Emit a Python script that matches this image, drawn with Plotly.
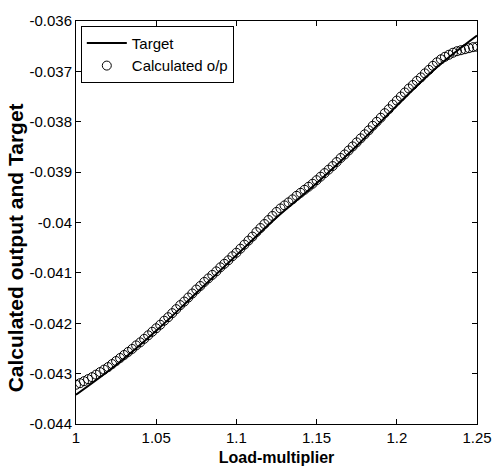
import plotly.graph_objects as go

# Load-multiplier sample points (x)
load_multiplier = [
    1.0000, 1.0025, 1.0050, 1.0075, 1.0100, 1.0125, 1.0150, 1.0175, 1.0200, 1.0225,
    1.0250, 1.0275, 1.0300, 1.0325, 1.0350, 1.0375, 1.0400, 1.0425, 1.0450, 1.0475,
    1.0500, 1.0525, 1.0550, 1.0575, 1.0600, 1.0625, 1.0650, 1.0675, 1.0700, 1.0725,
    1.0750, 1.0775, 1.0800, 1.0825, 1.0850, 1.0875, 1.0900, 1.0925, 1.0950, 1.0975,
    1.1000, 1.1025, 1.1050, 1.1075, 1.1100, 1.1125, 1.1150, 1.1175, 1.1200, 1.1225,
    1.1250, 1.1275, 1.1300, 1.1325, 1.1350, 1.1375, 1.1400, 1.1425, 1.1450, 1.1475,
    1.1500, 1.1525, 1.1550, 1.1575, 1.1600, 1.1625, 1.1650, 1.1675, 1.1700, 1.1725,
    1.1750, 1.1775, 1.1800, 1.1825, 1.1850, 1.1875, 1.1900, 1.1925, 1.1950, 1.1975,
    1.2000, 1.2025, 1.2050, 1.2075, 1.2100, 1.2125, 1.2150, 1.2175, 1.2200, 1.2225,
    1.2250, 1.2275, 1.2300, 1.2325, 1.2350, 1.2375, 1.2400, 1.2425, 1.2450, 1.2475,
    1.2500,
]

# Calculated output (circles)
calculated_op = [
    -0.04322, -0.04319, -0.04315, -0.04311, -0.04307, -0.04302, -0.04297, -0.04292, -0.04287, -0.04281,
    -0.04275, -0.04269, -0.04263, -0.04257, -0.04251, -0.04244, -0.04238, -0.04231, -0.04224, -0.04217,
    -0.04210, -0.04203, -0.04195, -0.04188, -0.04180, -0.04172, -0.04164, -0.04157, -0.04149, -0.04141,
    -0.04133, -0.04126, -0.04118, -0.04111, -0.04104, -0.04097, -0.04089, -0.04082, -0.04075, -0.04067,
    -0.04060, -0.04052, -0.04044, -0.04036, -0.04028, -0.04019, -0.04011, -0.04003, -0.03995, -0.03987,
    -0.03979, -0.03972, -0.03966, -0.03960, -0.03954, -0.03947, -0.03941, -0.03935, -0.03929, -0.03923,
    -0.03916, -0.03909, -0.03902, -0.03895, -0.03888, -0.03880, -0.03872, -0.03865, -0.03857, -0.03849,
    -0.03841, -0.03833, -0.03825, -0.03817, -0.03808, -0.03800, -0.03792, -0.03783, -0.03775, -0.03766,
    -0.03758, -0.03750, -0.03742, -0.03734, -0.03727, -0.03719, -0.03712, -0.03704, -0.03697, -0.03689,
    -0.03682, -0.03676, -0.03671, -0.03667, -0.03663, -0.03660, -0.03658, -0.03656, -0.03654, -0.03652,
    -0.03651,
]

# Target line
target_x = [1.000, 1.025, 1.050, 1.075, 1.100, 1.125, 1.150, 1.175, 1.200, 1.225, 1.250]
target_y = [-0.04342, -0.04283, -0.04215, -0.04140, -0.04065, -0.03990,
            -0.03922, -0.03848, -0.03768, -0.03692, -0.03629]

x_ticks = [1.0, 1.05, 1.1, 1.15, 1.2, 1.25]
x_tick_labels = ["1", "1.05", "1.1", "1.15", "1.2", "1.25"]
y_ticks = [-0.044, -0.043, -0.042, -0.041, -0.040, -0.039, -0.038, -0.037, -0.036]
y_tick_labels = ["-0.044", "-0.043", "-0.042", "-0.041", "-0.04", "-0.039", "-0.038", "-0.037", "-0.036"]

FONT = "Liberation Sans, Arial, sans-serif"

fig = go.Figure()
fig.add_trace(go.Scatter(
    x=target_x, y=target_y, mode="lines", name="Target",
    line=dict(color="black", width=2, shape="spline"),
    legendgroup="a",
))
fig.add_trace(go.Scatter(
    x=load_multiplier, y=calculated_op, mode="markers", name="Calculated o/p",
    marker=dict(symbol="circle-open", size=9, color="black", line=dict(width=1, color="black")),
    legendgroup="b",
))

axis_common = dict(
    showline=True, linecolor="black", linewidth=1, mirror="ticks",
    ticks="inside", ticklen=5, tickcolor="black", tickwidth=1,
    showgrid=False, zeroline=False,
    tickfont=dict(family=FONT, size=15, color="black"),
)

fig.update_xaxes(
    range=[1.0, 1.25], tickvals=x_ticks, ticktext=x_tick_labels,
    title=dict(text="Load-multiplier", font=dict(family=FONT, size=16, color="black", weight="bold"), standoff=6),
    **axis_common,
)
fig.update_yaxes(
    range=[-0.044, -0.036], tickvals=y_ticks, ticktext=y_tick_labels,
    **axis_common,
)

fig.add_annotation(
    text="<b>Calculated output and Target</b>", textangle=-90,
    xref="paper", yref="paper", x=-0.152, y=0.436,
    xanchor="center", yanchor="middle", showarrow=False,
    font=dict(family=FONT, size=21, color="black"),
)

fig.update_layout(
    width=504, height=475,
    margin=dict(l=76, r=20, t=16, b=48),
    paper_bgcolor="white", plot_bgcolor="white",
    showlegend=True,
    legend=dict(
        x=0.012, y=0.988, xanchor="left", yanchor="top",
        bgcolor="white", bordercolor="black", borderwidth=1,
        font=dict(family=FONT, size=15, color="black"),
        traceorder="grouped", tracegroupgap=0, itemwidth=40,
    ),
)

fig.write_html("out.html")
